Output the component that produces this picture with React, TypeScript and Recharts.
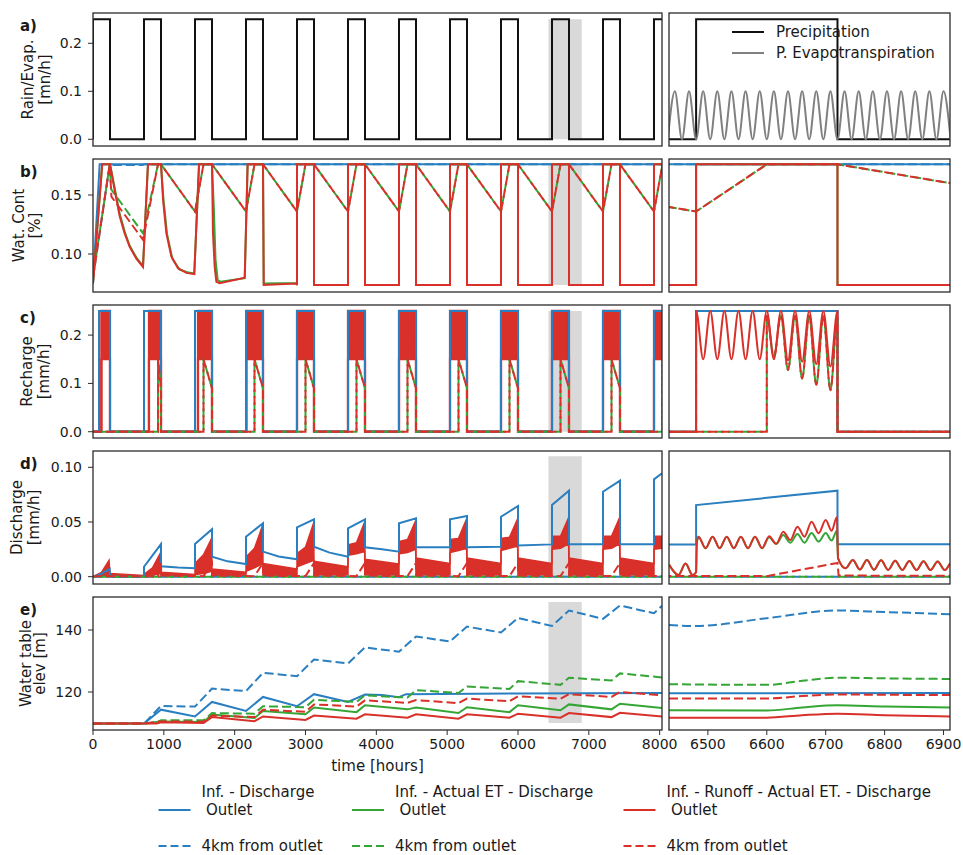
import React from 'react';
import { ComposedChart, Line, Area, XAxis, YAxis, ReferenceArea } from 'recharts';

type Pt = [number, number];
type Band = [number, number, number];

// ---------- time axes ----------
const leftDomain: [number, number] = [0, 8033];
const rightDomain: [number, number] = [6434, 6911];
const leftTicks = [0, 1000, 2000, 3000, 4000, 5000, 6000, 7000, 8000];
const rightTicks = [6500, 6600, 6700, 6800, 6900];
const zoomSpan: [number, number] = [6430, 6900];

// ---------- a) forcing ----------
const rainOn = [0, 720, 1440, 2160, 2880, 3600, 4320, 5040, 5760, 6480, 7200, 7920];
const rainOff = [240, 960, 1680, 2400, 3120, 3840, 4560, 5280, 6000, 6720, 7440, 8160];
const rainRate = 0.25;
const petRight: Pt[] = [
  [6432, 0], [6444, 0.1], [6456, 0], [6468, 0.1], [6480, 0], [6492, 0.1], [6504, 0], [6516, 0.1],
  [6528, 0], [6540, 0.1], [6552, 0], [6564, 0.1], [6576, 0], [6588, 0.1], [6600, 0], [6612, 0.1],
  [6624, 0], [6636, 0.1], [6648, 0], [6660, 0.1], [6672, 0], [6684, 0.1], [6696, 0], [6708, 0.1],
  [6720, 0], [6732, 0.1], [6744, 0], [6756, 0.1], [6768, 0], [6780, 0.1], [6792, 0], [6804, 0.1],
  [6816, 0], [6828, 0.1], [6840, 0], [6852, 0.1], [6864, 0], [6876, 0.1], [6888, 0], [6900, 0.1], [6912, 0],
];

// time the 4km column saturates in each wet spell (2nd spell onward)
const sat4km = [918, 1560, 2280, 3000, 3720, 4440, 5160, 5880, 6600, 7320, 8040];

// ---------- b) water content ----------
const wcSat = 0.176;
const wcDry = 0.0737;
const wc4kmLow = 0.136;
const wcBlueOutlet: Pt[] = [[0, 0.075], [94, 0.176], [8200, 0.176]];
const wcBlue4km: Pt[] = [[0, 0.08], [236, 0.1755], [700, 0.1755], [720, 0.176], [8200, 0.176]];
const wcRedEarly: Pt[] = [
  [0, 0.075], [130, 0.176], [240, 0.176], [306, 0.154], [377, 0.132], [447, 0.1175], [518, 0.106], [612, 0.096], [706, 0.089],
  [776, 0.176], [960, 0.176], [989, 0.146], [1036, 0.1175], [1106, 0.098], [1200, 0.088], [1318, 0.084], [1430, 0.083],
  [1497, 0.176], [1680, 0.176], [1694, 0.1175], [1718, 0.089], [1742, 0.0765], [1789, 0.0752], [2142, 0.08],
  [2183, 0.176], [2400, 0.176], [2410, 0.0737], [2870, 0.075],
];
const wcGreenEarly: Pt[] = [
  [0, 0.075], [130, 0.176], [240, 0.176], [306, 0.156], [377, 0.134], [447, 0.119], [518, 0.107], [612, 0.097], [706, 0.09],
  [776, 0.176], [960, 0.176], [995, 0.146], [1045, 0.117], [1120, 0.096], [1220, 0.087], [1330, 0.0845], [1430, 0.0835],
  [1497, 0.176], [1680, 0.176], [1705, 0.14], [1730, 0.095], [1760, 0.078], [1800, 0.0765], [2142, 0.0795],
  [2183, 0.176], [2400, 0.176], [2410, 0.075], [2870, 0.0755],
];
const wcRed4kmEarly: Pt[] = [[0, 0.08], [236, 0.176], [260, 0.1486], [706, 0.112], [918, 0.176], [960, 0.176]];
const wcGreen4kmEarly: Pt[] = [[0, 0.08], [236, 0.176], [255, 0.155], [706, 0.1175], [918, 0.176], [960, 0.176]];

// ---------- c) recharge ----------
const rechargeTrough = 0.15;
const recharge4kmTroughEnd = 0.09;
const blueRechargeOn = [85, 720, 1440, 2160, 2880, 3600, 4320, 5040, 5760, 6480, 7200, 7920];
const redRechargeOn = [118, 790, 1482, 2165, 2880, 3600, 4320, 5040, 5760, 6480, 7200, 7920];
const rechargeRedRight: Pt[] = [
  [6434, 0], [6480, 0], [6480, 0.25], [6492, 0.15], [6504, 0.25], [6516, 0.15], [6528, 0.25], [6540, 0.15],
  [6552, 0.25], [6564, 0.15], [6576, 0.25], [6588, 0.15], [6600, 0.25], [6612, 0.15], [6624, 0.25], [6636, 0.148],
  [6648, 0.25], [6660, 0.145], [6672, 0.25], [6684, 0.14], [6696, 0.25], [6708, 0.135], [6720, 0.25], [6720, 0], [6911, 0],
];
const rechargeRed4kmRight: Pt[] = [
  [6434, 0], [6600, 0], [6600, 0.24], [6612, 0.155], [6624, 0.24], [6636, 0.128], [6648, 0.24], [6660, 0.11],
  [6672, 0.24], [6684, 0.097], [6696, 0.24], [6708, 0.086], [6720, 0.24], [6720, 0], [6911, 0],
];

// ---------- d) discharge ----------
const dischargeBlue: Pt[] = [
  [0, 0], [100, 0.002], [235, 0.007], [240, 0.001], [300, 0], [720, 0], [720, 0.0091], [960, 0.0298], [960, 0.0095],
  [1200, 0.0084], [1440, 0.0078], [1440, 0.0298], [1680, 0.0433], [1680, 0.0183], [1900, 0.014], [2160, 0.0116],
  [2160, 0.0366], [2400, 0.0488], [2400, 0.0229], [2620, 0.0185], [2880, 0.0159], [2880, 0.0451], [3120, 0.0524],
  [3120, 0.0274], [3340, 0.022], [3600, 0.0183], [3600, 0.0442], [3840, 0.0524], [3840, 0.0268], [4080, 0.025],
  [4320, 0.0229], [4320, 0.0488], [4560, 0.0533], [4560, 0.0268], [5040, 0.0268], [5040, 0.0524], [5280, 0.0554],
  [5280, 0.027], [5760, 0.0274], [5760, 0.0548], [6000, 0.0646], [6000, 0.0285], [6480, 0.0295], [6480, 0.0655],
  [6720, 0.0786], [6720, 0.0296], [7200, 0.0296], [7200, 0.0777], [7440, 0.0878], [7440, 0.0296], [7920, 0.0296],
  [7920, 0.089], [8033, 0.0945],
];
const dischargeRedBands: Band[] = [
  [0, 0, 0], [120, 0, 0.004], [226, 0.001, 0.015], [240, 0, 0.003], [720, 0, 0.001],
  [720, 0, 0.002], [840, 0.001, 0.008], [955, 0.003, 0.022], [960, 0.001, 0.004], [1440, 0.0005, 0.002],
  [1440, 0.002, 0.012], [1560, 0.003, 0.02], [1675, 0.005, 0.035], [1680, 0.001, 0.007], [2160, 0.001, 0.004],
  [2160, 0.005, 0.018], [2280, 0.008, 0.026], [2395, 0.012, 0.047], [2400, 0.001, 0.012], [2880, 0.001, 0.007],
  [2880, 0.009, 0.021], [3000, 0.012, 0.027], [3115, 0.015, 0.049], [3120, 0.0015, 0.014], [3600, 0.0015, 0.009],
  [3600, 0.0195, 0.029], [3720, 0.021, 0.031], [3835, 0.023, 0.05], [3840, 0.0015, 0.016], [4320, 0.0015, 0.0115],
  [4320, 0.021, 0.032], [4440, 0.022, 0.034], [4555, 0.025, 0.051], [4560, 0.0015, 0.017], [5040, 0.0015, 0.012],
  [5040, 0.022, 0.034], [5160, 0.024, 0.035], [5275, 0.026, 0.053], [5280, 0.0015, 0.017], [5760, 0.0015, 0.012],
  [5760, 0.024, 0.035], [5880, 0.026, 0.036], [5995, 0.028, 0.053], [6000, 0.0015, 0.017], [6480, 0.0015, 0.012],
  [6480, 0.025, 0.037], [6600, 0.026, 0.037], [6715, 0.03, 0.054], [6720, 0.0015, 0.017], [7200, 0.0015, 0.012],
  [7200, 0.025, 0.037], [7320, 0.026, 0.037], [7435, 0.03, 0.054], [7440, 0.0015, 0.017], [7920, 0.0015, 0.012],
  [7920, 0.025, 0.037], [8040, 0.026, 0.037],
];
const discharge4kmPeak = 0.0125;
const discharge4kmBase = 0.001;
const dischargeRedRight: Pt[] = [
  [6434, 0.011], [6450, 0.0015], [6462, 0.012], [6474, 0.0015], [6480, 0.004], [6481, 0.03], [6484, 0.0366],
  [6496, 0.026], [6508, 0.0366], [6520, 0.026], [6532, 0.0366], [6544, 0.026], [6556, 0.0366], [6568, 0.026],
  [6580, 0.0366], [6592, 0.026], [6604, 0.037], [6616, 0.03], [6628, 0.041], [6640, 0.0335], [6652, 0.0457],
  [6664, 0.0366], [6676, 0.0503], [6688, 0.0397], [6700, 0.0518], [6710, 0.042], [6719, 0.0543], [6721, 0.0168],
  [6734, 0.0077], [6746, 0.0153], [6758, 0.0065], [6770, 0.0153], [6782, 0.0063], [6794, 0.015], [6806, 0.0062],
  [6818, 0.0145], [6830, 0.0061], [6842, 0.0143], [6854, 0.006], [6866, 0.014], [6878, 0.006], [6890, 0.0138],
  [6902, 0.006], [6911, 0.012],
];
const dischargeGreenRight: Pt[] = [
  [6434, 0.011], [6450, 0.0015], [6462, 0.012], [6474, 0.0015], [6480, 0.004], [6481, 0.03], [6484, 0.0366],
  [6496, 0.026], [6508, 0.0366], [6520, 0.026], [6532, 0.0366], [6544, 0.026], [6556, 0.0366], [6568, 0.026],
  [6580, 0.0366], [6592, 0.026], [6604, 0.036], [6616, 0.03], [6628, 0.038], [6640, 0.031], [6652, 0.039],
  [6664, 0.031], [6676, 0.04], [6688, 0.032], [6700, 0.04], [6710, 0.033], [6719, 0.042], [6721, 0.0168],
  [6734, 0.0077], [6746, 0.0153], [6758, 0.0065], [6770, 0.0153], [6782, 0.0063], [6794, 0.015], [6806, 0.0062],
  [6818, 0.0145], [6830, 0.0061], [6842, 0.0143], [6854, 0.006], [6866, 0.014], [6878, 0.006], [6890, 0.0138],
  [6902, 0.006], [6911, 0.012],
];
const dischargeZero: Pt[] = [[0, 0], [8200, 0]];

// ---------- e) water table ----------
const wtBlue: Pt[] = [
  [0, 109.8], [720, 109.8], [960, 114.3], [1440, 112.1], [1680, 116.8], [2160, 113.9], [2400, 118.4], [2880, 115.4],
  [3120, 119.3], [3600, 116.8], [3840, 119.2], [4080, 119.0], [4320, 118.3], [4420, 119.3], [6000, 119.5], [8033, 119.7],
];
const wtBlue4km: Pt[] = [
  [0, 109.8], [720, 109.8], [960, 115.5], [1440, 115.3], [1680, 121.1], [2160, 120.3], [2400, 126.2], [2880, 125.1],
  [3120, 130.5], [3600, 129.2], [3840, 134.4], [4320, 133.0], [4560, 137.9], [5040, 136.3], [5280, 141.1], [5760, 139.2],
  [6000, 143.9], [6480, 141.3], [6720, 146.3], [7200, 143.6], [7440, 147.9], [7920, 145.4], [8033, 147.8],
];
const wtGreen: Pt[] = [
  [0, 109.8], [720, 109.8], [960, 110.5], [1560, 110.3], [1680, 112.7], [2280, 111.6], [2400, 113.9], [3000, 112.8],
  [3120, 115.0], [3720, 113.5], [3840, 115.7], [4440, 114.4], [4560, 115.0], [5160, 113.2], [5280, 115.1], [5880, 113.5],
  [6000, 115.7], [6600, 114.1], [6720, 116.0], [7320, 114.4], [7440, 116.2], [8033, 114.8],
];
const wtGreen4km: Pt[] = [
  [0, 109.8], [720, 109.8], [900, 110.2], [960, 110.9], [1560, 110.9], [1680, 113.2], [2280, 113.0], [2400, 115.4],
  [3000, 115.1], [3120, 117.5], [3720, 116.8], [3840, 118.9], [4440, 118.2], [4560, 120.6], [5160, 119.7], [5280, 121.8],
  [5880, 121.0], [6000, 123.5], [6600, 122.3], [6720, 124.6], [7320, 123.7], [7440, 126.0], [8033, 124.7],
];
const wtRed: Pt[] = [
  [0, 109.8], [900, 109.8], [960, 110.2], [1560, 110.0], [1680, 111.9], [2280, 110.6], [2400, 112.1], [3000, 111.0],
  [3120, 112.4], [3720, 111.4], [3840, 112.8], [4440, 111.7], [4560, 112.8], [5160, 111.4], [5280, 112.8], [5880, 111.7],
  [6000, 113.0], [6600, 111.7], [6720, 113.2], [7320, 111.9], [7440, 113.3], [8033, 112.1],
];
const wtRed4km: Pt[] = [
  [0, 109.8], [720, 109.8], [960, 110.5], [1560, 110.4], [1680, 112.4], [2280, 111.9], [2400, 114.3], [3000, 113.6],
  [3120, 116.0], [3720, 115.3], [3840, 117.3], [4440, 116.5], [4560, 117.4], [5160, 116.4], [5280, 117.9], [5880, 117.0],
  [6000, 118.6], [6600, 117.8], [6720, 119.3], [7320, 118.4], [7440, 120.0], [8033, 118.9],
];
const wtBlueRight: Pt[] = [[6434, 119.6], [6911, 119.7]];
const wtBlue4kmRight: Pt[] = [[6434, 141.6], [6480, 141.3], [6600, 143.8], [6720, 146.3], [6800, 145.8], [6911, 145.1]];
const wtGreenRight: Pt[] = [[6434, 114.1], [6600, 114.0], [6660, 115.0], [6720, 115.7], [6800, 115.3], [6911, 115.0]];
const wtGreen4kmRight: Pt[] = [[6434, 122.5], [6600, 122.3], [6660, 123.6], [6720, 124.6], [6800, 124.4], [6911, 124.2]];
const wtRedRight: Pt[] = [[6434, 111.7], [6600, 111.7], [6660, 112.5], [6720, 113.0], [6800, 112.5], [6911, 112.1]];
const wtRed4kmRight: Pt[] = [[6434, 117.9], [6600, 117.9], [6660, 118.7], [6720, 119.2], [6800, 119.1], [6911, 119.0]];

// ---------- layout ----------
const LEFT_X = 93;
const LEFT_W = 569;
const RIGHT_X = 669;
const RIGHT_W = 281;
const PANEL_H = 133;
const PAD = 10;
const PAD_R = 30;
const panelTops = [13, 159, 305, 451, 597];
const FONT = 'DejaVu Sans';

const C = {
  blue: '#2a7fc0',
  green: '#35a535',
  red: '#d9302a',
  black: '#111111',
  grey: '#808080',
  shade: '#d9d9d9',
  frame: '#2b2b2b',
  text: '#1a1a1a',
};
const DASH = '9 4';

// ---------- series builders ----------
const rows = (pts: Pt[]) => pts.map(([t, v]) => ({ t, v }));
const bandRows = (b: Band[]) => b.map(([t, lo, hi]) => ({ t, r: [lo, hi] }));

const steps = (on: number[], off: number[], hi: number, lo: number): Pt[] => {
  const pts: Pt[] = [[0, lo]];
  on.forEach((t, i) => pts.push([t, lo], [t, hi], [off[i], hi], [off[i], lo]));
  pts.push([8200, lo]);
  return pts;
};

const rainSeries = steps(rainOn, rainOff, rainRate, 0);

const wcSquare: Pt[] = rainOn.slice(4).flatMap((t, i) => [
  [t, wcDry], [t, wcSat], [rainOff[4 + i], wcSat], [rainOff[4 + i], wcDry],
] as Pt[]);
const wcSaw: Pt[] = rainOn.slice(2).flatMap((t, i) => [
  [t, wc4kmLow], [sat4km[1 + i], wcSat], [rainOff[2 + i], wcSat],
] as Pt[]);
const wcRed = [...wcRedEarly, ...wcSquare];
const wcGreen = [...wcGreenEarly, ...wcSquare];
const wcRed4km = [...wcRed4kmEarly, ...wcSaw];
const wcGreen4km = [...wcGreen4kmEarly, ...wcSaw];

const rechargeBlue = steps(blueRechargeOn, rainOff, rainRate, 0);
const rechargeBlue4km = steps(rainOn.slice(1), rainOff.slice(1), rainRate, 0);
const rechargeRedBand: Band[] = [[0, 0, 0]];
redRechargeOn.forEach((t, i) => {
  rechargeRedBand.push([t, 0, 0], [t, rechargeTrough, rainRate], [rainOff[i], rechargeTrough, rainRate], [rainOff[i], 0, 0]);
});
rechargeRedBand.push([8200, 0, 0]);
const rechargeRed4km: Pt[] = [[0, 0]];
sat4km.forEach((t, i) => {
  rechargeRed4km.push([t, 0], [t, rechargeTrough], [rainOff[1 + i], recharge4kmTroughEnd], [rainOff[1 + i], 0]);
});
rechargeRed4km.push([8200, 0]);

const dischargeRed4km: Pt[] = [[0, 0.0005]];
sat4km.forEach((t, i) => {
  dischargeRed4km.push([t, 0.0005], [rainOff[1 + i], discharge4kmPeak], [rainOff[1 + i] + 2, discharge4kmBase]);
});
dischargeRed4km.push([8200, discharge4kmBase]);

// ---------- drawing helpers ----------
const tickStyle = { fontSize: 14, fill: C.text, fontFamily: FONT };

const line = (
  key: string,
  pts: Pt[],
  color: string,
  opts: { dash?: boolean; offset?: number; curve?: 'linear' | 'monotone'; width?: number } = {},
) => (
  <Line
    key={key}
    data={rows(pts)}
    dataKey="v"
    type={opts.curve ?? 'linear'}
    stroke={color}
    strokeWidth={opts.width ?? 2}
    strokeDasharray={opts.dash ? DASH : undefined}
    strokeDashoffset={opts.offset}
    dot={false}
    activeDot={false}
    isAnimationActive={false}
  />
);

const band = (key: string, b: Band[], color: string, width = 1.5) => (
  <Area
    key={key}
    data={bandRows(b)}
    dataKey="r"
    type="linear"
    stroke={color}
    strokeWidth={width}
    fill={color}
    fillOpacity={1}
    dot={false}
    activeDot={false}
    isAnimationActive={false}
  />
);

type PanelProps = {
  row: number;
  side: 'left' | 'right';
  yDomain: [number, number];
  yTicks: number[];
  yFmt: (v: number) => string;
  shadeY?: [number, number];
  items: React.ReactNode[];
};

function Panel({ row, side, yDomain, yTicks, yFmt, shadeY, items }: PanelProps) {
  const isLeft = side === 'left';
  const showX = row === 4;
  const width = (isLeft ? LEFT_X + LEFT_W : RIGHT_W) + PAD_R;
  const height = PANEL_H + (showX ? 34 : 0) + 2 * PAD;
  return (
    <div style={{ position: 'absolute', left: isLeft ? 0 : RIGHT_X, top: panelTops[row] - PAD }}>
      <ComposedChart width={width} height={height} margin={{ top: PAD, right: PAD_R, bottom: PAD, left: 0 }}>
        <XAxis
          type="number"
          dataKey="t"
          domain={isLeft ? leftDomain : rightDomain}
          allowDataOverflow
          ticks={isLeft ? leftTicks : rightTicks}
          interval={0}
          hide={!showX}
          height={34}
          tickSize={5}
          tickMargin={4}
          axisLine={false}
          tickLine={{ stroke: C.frame }}
          tick={tickStyle}
        />
        <YAxis
          type="number"
          domain={yDomain}
          allowDataOverflow
          hide={!isLeft}
          width={LEFT_X}
          ticks={yTicks}
          interval={0}
          tickFormatter={yFmt}
          tickSize={5}
          tickMargin={6}
          axisLine={false}
          tickLine={{ stroke: C.frame }}
          tick={tickStyle}
        />
        {isLeft && shadeY && (
          <ReferenceArea
            x1={zoomSpan[0]}
            x2={zoomSpan[1]}
            y1={shadeY[0]}
            y2={shadeY[1]}
            fill={C.shade}
            fillOpacity={1}
            stroke="none"
          />
        )}
        {items}
      </ComposedChart>
    </div>
  );
}

const f1 = (v: number) => v.toFixed(1);
const f2 = (v: number) => v.toFixed(2);
const f0 = (v: number) => String(v);

const yLabels: { lines: string[]; xs: number[] }[] = [
  { lines: ['Rain/Evap.', '[mn/h]'], xs: [33, 50] },
  { lines: ['Wat. Cont', '[%]'], xs: [24, 40] },
  { lines: ['Recharge', '[mm/h]'], xs: [31.5, 48.5] },
  { lines: ['Discharge', '[mm/h]'], xs: [21.5, 38.5] },
  { lines: ['Water table', 'elev [m]'], xs: [30.5, 45] },
];
const panelLetters = ['a)', 'b)', 'c)', 'd)', 'e)'];

const legendCols = [
  { x: 158.5, color: C.blue, title: 'Inf. - Discharge' },
  { x: 352, color: C.green, title: 'Inf. - Actual ET - Discharge' },
  { x: 623.5, color: C.red, title: 'Inf. - Runoff - Actual ET. - Discharge' },
];

export default function App() {
  const domA: [number, number] = [-0.014, 0.2631];
  const domB: [number, number] = [0.0678, 0.1805];
  const domC: [number, number] = [-0.013, 0.2623];
  const domD: [number, number] = [-0.0067, 0.1149];
  const domE: [number, number] = [107.74, 150.65];

  return (
    <div style={{ position: 'absolute', left: 0, top: 0, width: 963, height: 855, background: '#fff', fontFamily: FONT }}>
      {/* a) */}
      <Panel row={0} side="left" yDomain={domA} yTicks={[0, 0.1, 0.2]} yFmt={f1} shadeY={[0, 0.25]}
        items={[line('rain', rainSeries, C.black)]} />
      <Panel row={0} side="right" yDomain={domA} yTicks={[]} yFmt={f1}
        items={[line('rainR', rainSeries, C.black), line('pet', petRight, C.grey, { curve: 'monotone' })]} />

      {/* b) */}
      <Panel row={1} side="left" yDomain={domB} yTicks={[0.1, 0.15]} yFmt={f2} shadeY={[0.0737, 0.176]}
        items={[
          line('b1', wcBlueOutlet, C.blue),
          line('b2', wcBlue4km, C.blue, { dash: true }),
          line('b3', wcGreen, C.green),
          line('b4', wcGreen4km, C.green, { dash: true, offset: 6 }),
          line('b5', wcRed, C.red),
          line('b6', wcRed4km, C.red, { dash: true }),
        ]} />
      <Panel row={1} side="right" yDomain={domB} yTicks={[]} yFmt={f2}
        items={[
          line('b1', wcBlueOutlet, C.blue),
          line('b2', wcBlue4km, C.blue, { dash: true }),
          line('b3', wcGreen, C.green),
          line('b4', wcGreen4km, C.green, { dash: true, offset: 6 }),
          line('b5', wcRed, C.red),
          line('b6', wcRed4km, C.red, { dash: true }),
        ]} />

      {/* c) */}
      <Panel row={2} side="left" yDomain={domC} yTicks={[0, 0.1, 0.2]} yFmt={f1} shadeY={[0, 0.25]}
        items={[
          line('c2', rechargeBlue4km, C.blue, { dash: true }),
          line('c1', rechargeBlue, C.blue),
          line('c4', rechargeRed4km, C.green, { dash: true, offset: 6 }),
          band('c5', rechargeRedBand, C.red, 2.2),
          line('c6', rechargeRed4km, C.red, { dash: true }),
        ]} />
      <Panel row={2} side="right" yDomain={domC} yTicks={[]} yFmt={f1}
        items={[
          line('c2', rechargeBlue4km, C.blue, { dash: true }),
          line('c1', rechargeBlue, C.blue),
          line('c4', rechargeRed4kmRight, C.green, { dash: true, offset: 6, curve: 'monotone' }),
          line('c5', rechargeRedRight, C.red, { curve: 'monotone' }),
          line('c6', rechargeRed4kmRight, C.red, { dash: true, curve: 'monotone' }),
        ]} />

      {/* d) */}
      <Panel row={3} side="left" yDomain={domD} yTicks={[0, 0.05, 0.1]} yFmt={f2} shadeY={[0, 0.11]}
        items={[
          line('d1', dischargeBlue, C.blue),
          line('d2', dischargeZero, C.blue, { dash: true }),
          line('d4', dischargeZero, C.green, { dash: true, offset: 6 }),
          band('d5', dischargeRedBands, C.red),
          line('d6', dischargeRed4km, C.red, { dash: true }),
        ]} />
      <Panel row={3} side="right" yDomain={domD} yTicks={[]} yFmt={f2}
        items={[
          line('d1', dischargeBlue, C.blue),
          line('d2', dischargeZero, C.blue, { dash: true }),
          line('d3', dischargeGreenRight, C.green, { curve: 'monotone' }),
          line('d4', dischargeZero, C.green, { dash: true, offset: 6 }),
          line('d5', dischargeRedRight, C.red, { curve: 'monotone' }),
          line('d6', dischargeRed4km, C.red, { dash: true }),
        ]} />

      {/* e) */}
      <Panel row={4} side="left" yDomain={domE} yTicks={[120, 140]} yFmt={f0} shadeY={[110, 149]}
        items={[
          line('e1', wtBlue, C.blue),
          line('e2', wtBlue4km, C.blue, { dash: true }),
          line('e3', wtGreen, C.green),
          line('e4', wtGreen4km, C.green, { dash: true }),
          line('e5', wtRed, C.red),
          line('e6', wtRed4km, C.red, { dash: true }),
        ]} />
      <Panel row={4} side="right" yDomain={domE} yTicks={[]} yFmt={f0}
        items={[
          line('e1', wtBlueRight, C.blue, { curve: 'monotone' }),
          line('e2', wtBlue4kmRight, C.blue, { dash: true, curve: 'monotone' }),
          line('e3', wtGreenRight, C.green, { curve: 'monotone' }),
          line('e4', wtGreen4kmRight, C.green, { dash: true, curve: 'monotone' }),
          line('e5', wtRedRight, C.red, { curve: 'monotone' }),
          line('e6', wtRed4kmRight, C.red, { dash: true, curve: 'monotone' }),
        ]} />

      <svg width={963} height={855} style={{ position: 'absolute', left: 0, top: 0, pointerEvents: 'none' }}
        fontFamily={FONT} fill={C.text}>
        {panelTops.map((top, i) => (
          <g key={i}>
            <rect x={LEFT_X} y={top} width={LEFT_W} height={PANEL_H} fill="none" stroke={C.frame} strokeWidth={1.3} />
            <rect x={RIGHT_X} y={top} width={RIGHT_W} height={PANEL_H} fill="none" stroke={C.frame} strokeWidth={1.3} />
            <text x={20} y={top + 18} fontSize={15} fontWeight="bold">{panelLetters[i]}</text>
            {yLabels[i].lines.map((s, j) => (
              <text key={j} transform={`translate(${yLabels[i].xs[j]},${top + PANEL_H / 2}) rotate(-90)`}
                textAnchor="middle" fontSize={15}>{s}</text>
            ))}
          </g>
        ))}

        <text x={LEFT_X + LEFT_W / 2} y={771} textAnchor="middle" fontSize={15}>time [hours]</text>

        {/* legend inside panel a (right) */}
        <line x1={732} x2={764} y1={32} y2={32} stroke={C.black} strokeWidth={2} />
        <text x={776} y={37} fontSize={15}>Precipitation</text>
        <line x1={732} x2={764} y1={53} y2={53} stroke={C.grey} strokeWidth={2} />
        <text x={776} y={58} fontSize={15}>P. Evapotranspiration</text>

        {/* bottom legend */}
        {legendCols.map((c) => (
          <g key={c.title}>
            <text x={c.x + 43} y={797} fontSize={15}>{c.title}</text>
            <line x1={c.x} x2={c.x + 32} y1={810} y2={810} stroke={c.color} strokeWidth={2} />
            <text x={c.x + 47.5} y={815} fontSize={15}>Outlet</text>
            <line x1={c.x} x2={c.x + 32} y1={846} y2={846} stroke={c.color} strokeWidth={2} strokeDasharray="8 4" />
            <text x={c.x + 43} y={851} fontSize={15}>4km from outlet</text>
          </g>
        ))}
      </svg>
    </div>
  );
}
